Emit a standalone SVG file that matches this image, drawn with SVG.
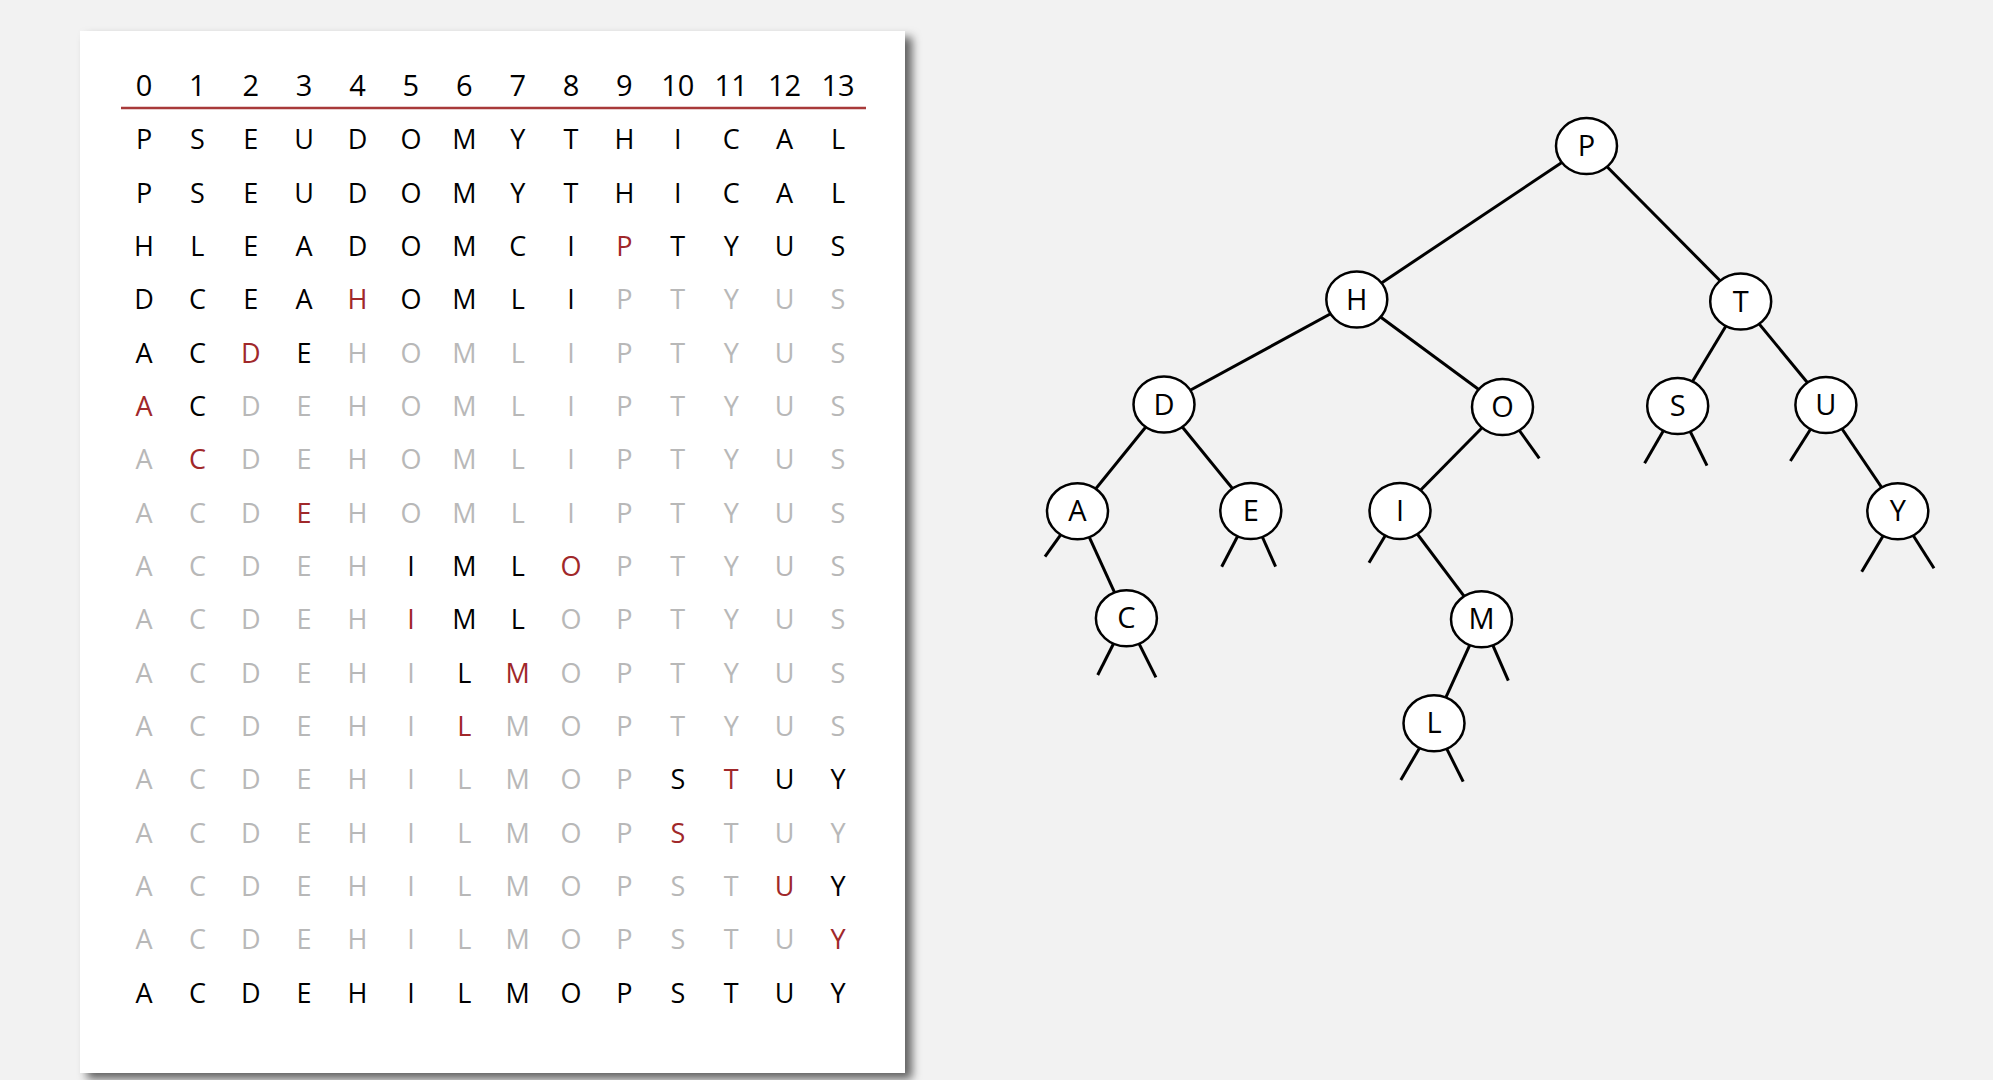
<svg xmlns="http://www.w3.org/2000/svg" width="1993" height="1080" viewBox="0 0 1993 1080">
<defs>
<filter id="sh" x="-5%" y="-5%" width="115%" height="115%">
<feDropShadow dx="7" dy="6" stdDeviation="5" flood-color="#000" flood-opacity="0.6"/>
</filter>
<style>
.t{font-family:"Open Sans","Liberation Sans",sans-serif;font-size:27px;text-anchor:middle}
.h{font-family:"Open Sans","Liberation Sans",sans-serif;font-size:29px;text-anchor:middle;fill:#000}
.k{fill:#000}.r{fill:#a0282a}.g{fill:#b8b8b8}
.e{stroke:#000;stroke-width:3;fill:none}
.n ellipse{fill:#fff;stroke:#000;stroke-width:2.5}
.n text{font-family:"Open Sans","Liberation Sans",sans-serif;font-size:29px;text-anchor:middle;fill:#000}
</style>
</defs>
<rect width="1993" height="1080" fill="#f2f2f2"/>
<rect x="80" y="31" width="825" height="1042" fill="#fff" filter="url(#sh)"/>
<g id="header">
<text class="h" x="144" y="96">0</text>
<text class="h" x="197.4" y="96">1</text>
<text class="h" x="250.8" y="96">2</text>
<text class="h" x="304.1" y="96">3</text>
<text class="h" x="357.5" y="96">4</text>
<text class="h" x="410.9" y="96">5</text>
<text class="h" x="464.3" y="96">6</text>
<text class="h" x="517.7" y="96">7</text>
<text class="h" x="571" y="96">8</text>
<text class="h" x="624.4" y="96">9</text>
<text class="h" x="677.8" y="96">10</text>
<text class="h" x="731.2" y="96">11</text>
<text class="h" x="784.6" y="96">12</text>
<text class="h" x="838" y="96">13</text>
</g>
<line x1="121" y1="108" x2="866" y2="108" stroke="#a83a3a" stroke-width="2.5"/>
<g id="rows">
<text class="t" x="144 197.4 250.8 304.1 357.5 410.9 464.3 517.7 571 624.4 677.8 731.2 784.6 838" y="149.3"><tspan class="k">PSEUDOMYTHICAL</tspan></text>
<text class="t" x="144 197.4 250.8 304.1 357.5 410.9 464.3 517.7 571 624.4 677.8 731.2 784.6 838" y="202.7"><tspan class="k">PSEUDOMYTHICAL</tspan></text>
<text class="t" x="144 197.4 250.8 304.1 357.5 410.9 464.3 517.7 571 624.4 677.8 731.2 784.6 838" y="256"><tspan class="k">HLEADOMCI</tspan><tspan class="r">P</tspan><tspan class="k">TYUS</tspan></text>
<text class="t" x="144 197.4 250.8 304.1 357.5 410.9 464.3 517.7 571 624.4 677.8 731.2 784.6 838" y="309.3"><tspan class="k">DCEA</tspan><tspan class="r">H</tspan><tspan class="k">OMLI</tspan><tspan class="g">PTYUS</tspan></text>
<text class="t" x="144 197.4 250.8 304.1 357.5 410.9 464.3 517.7 571 624.4 677.8 731.2 784.6 838" y="362.6"><tspan class="k">AC</tspan><tspan class="r">D</tspan><tspan class="k">E</tspan><tspan class="g">HOMLIPTYUS</tspan></text>
<text class="t" x="144 197.4 250.8 304.1 357.5 410.9 464.3 517.7 571 624.4 677.8 731.2 784.6 838" y="416"><tspan class="r">A</tspan><tspan class="k">C</tspan><tspan class="g">DEHOMLIPTYUS</tspan></text>
<text class="t" x="144 197.4 250.8 304.1 357.5 410.9 464.3 517.7 571 624.4 677.8 731.2 784.6 838" y="469.3"><tspan class="g">A</tspan><tspan class="r">C</tspan><tspan class="g">DEHOMLIPTYUS</tspan></text>
<text class="t" x="144 197.4 250.8 304.1 357.5 410.9 464.3 517.7 571 624.4 677.8 731.2 784.6 838" y="522.6"><tspan class="g">ACD</tspan><tspan class="r">E</tspan><tspan class="g">HOMLIPTYUS</tspan></text>
<text class="t" x="144 197.4 250.8 304.1 357.5 410.9 464.3 517.7 571 624.4 677.8 731.2 784.6 838" y="575.9"><tspan class="g">ACDEH</tspan><tspan class="k">IML</tspan><tspan class="r">O</tspan><tspan class="g">PTYUS</tspan></text>
<text class="t" x="144 197.4 250.8 304.1 357.5 410.9 464.3 517.7 571 624.4 677.8 731.2 784.6 838" y="629.3"><tspan class="g">ACDEH</tspan><tspan class="r">I</tspan><tspan class="k">ML</tspan><tspan class="g">OPTYUS</tspan></text>
<text class="t" x="144 197.4 250.8 304.1 357.5 410.9 464.3 517.7 571 624.4 677.8 731.2 784.6 838" y="682.6"><tspan class="g">ACDEHI</tspan><tspan class="k">L</tspan><tspan class="r">M</tspan><tspan class="g">OPTYUS</tspan></text>
<text class="t" x="144 197.4 250.8 304.1 357.5 410.9 464.3 517.7 571 624.4 677.8 731.2 784.6 838" y="735.9"><tspan class="g">ACDEHI</tspan><tspan class="r">L</tspan><tspan class="g">MOPTYUS</tspan></text>
<text class="t" x="144 197.4 250.8 304.1 357.5 410.9 464.3 517.7 571 624.4 677.8 731.2 784.6 838" y="789.3"><tspan class="g">ACDEHILMOP</tspan><tspan class="k">S</tspan><tspan class="r">T</tspan><tspan class="k">UY</tspan></text>
<text class="t" x="144 197.4 250.8 304.1 357.5 410.9 464.3 517.7 571 624.4 677.8 731.2 784.6 838" y="842.6"><tspan class="g">ACDEHILMOP</tspan><tspan class="r">S</tspan><tspan class="g">TUY</tspan></text>
<text class="t" x="144 197.4 250.8 304.1 357.5 410.9 464.3 517.7 571 624.4 677.8 731.2 784.6 838" y="895.9"><tspan class="g">ACDEHILMOPST</tspan><tspan class="r">U</tspan><tspan class="k">Y</tspan></text>
<text class="t" x="144 197.4 250.8 304.1 357.5 410.9 464.3 517.7 571 624.4 677.8 731.2 784.6 838" y="949.3"><tspan class="g">ACDEHILMOPSTU</tspan><tspan class="r">Y</tspan></text>
<text class="t" x="144 197.4 250.8 304.1 357.5 410.9 464.3 517.7 571 624.4 677.8 731.2 784.6 838" y="1002.6"><tspan class="k">ACDEHILMOPSTUY</tspan></text>
</g>
<g id="connectors" class="e">
<line x1="1586.5" y1="146" x2="1356.8" y2="299.5"/>
<line x1="1586.5" y1="146" x2="1740.7" y2="301.5"/>
<line x1="1356.8" y1="299.5" x2="1164" y2="404.5"/>
<line x1="1356.8" y1="299.5" x2="1502.5" y2="407"/>
<line x1="1740.7" y1="301.5" x2="1677.7" y2="406"/>
<line x1="1740.7" y1="301.5" x2="1825.9" y2="405"/>
<line x1="1164" y1="404.5" x2="1077.5" y2="511.3"/>
<line x1="1164" y1="404.5" x2="1250.8" y2="511"/>
<line x1="1502.5" y1="407" x2="1400" y2="511"/>
<line x1="1825.9" y1="405" x2="1897.8" y2="511.3"/>
<line x1="1077.5" y1="511.3" x2="1126.4" y2="618.3"/>
<line x1="1400" y1="511" x2="1481.5" y2="619.3"/>
<line x1="1481.5" y1="619.3" x2="1434" y2="723.3"/>
<line x1="1502.5" y1="407" x2="1539.3" y2="458.3"/>
<line x1="1677.7" y1="406" x2="1644.6" y2="463.3"/>
<line x1="1677.7" y1="406" x2="1707" y2="465.7"/>
<line x1="1825.9" y1="405" x2="1790.4" y2="461"/>
<line x1="1077.5" y1="511.3" x2="1045" y2="556.7"/>
<line x1="1250.8" y1="511" x2="1221.7" y2="566.7"/>
<line x1="1250.8" y1="511" x2="1275.6" y2="566.7"/>
<line x1="1400" y1="511" x2="1369" y2="562.7"/>
<line x1="1897.8" y1="511.3" x2="1861.7" y2="571.7"/>
<line x1="1897.8" y1="511.3" x2="1934" y2="568.3"/>
<line x1="1126.4" y1="618.3" x2="1097.7" y2="675"/>
<line x1="1126.4" y1="618.3" x2="1155.9" y2="677.3"/>
<line x1="1481.5" y1="619.3" x2="1508.3" y2="680.7"/>
<line x1="1434" y1="723.3" x2="1400.8" y2="780"/>
<line x1="1434" y1="723.3" x2="1463.2" y2="781.7"/>
</g>
<g id="node-P" class="n"><ellipse cx="1586.5" cy="146" rx="30.5" ry="28"/><text x="1586.5" y="156">P</text></g>
<g id="node-H" class="n"><ellipse cx="1356.8" cy="299.5" rx="30.5" ry="28"/><text x="1356.8" y="309.5">H</text></g>
<g id="node-T" class="n"><ellipse cx="1740.7" cy="301.5" rx="30.5" ry="28"/><text x="1740.7" y="311.5">T</text></g>
<g id="node-D" class="n"><ellipse cx="1164" cy="404.5" rx="30.5" ry="28"/><text x="1164" y="414.5">D</text></g>
<g id="node-O" class="n"><ellipse cx="1502.5" cy="407" rx="30.5" ry="28"/><text x="1502.5" y="417">O</text></g>
<g id="node-S" class="n"><ellipse cx="1677.7" cy="406" rx="30.5" ry="28"/><text x="1677.7" y="416">S</text></g>
<g id="node-U" class="n"><ellipse cx="1825.9" cy="405" rx="30.5" ry="28"/><text x="1825.9" y="415">U</text></g>
<g id="node-A" class="n"><ellipse cx="1077.5" cy="511.3" rx="30.5" ry="28"/><text x="1077.5" y="521.3">A</text></g>
<g id="node-E" class="n"><ellipse cx="1250.8" cy="511" rx="30.5" ry="28"/><text x="1250.8" y="521">E</text></g>
<g id="node-I" class="n"><ellipse cx="1400" cy="511" rx="30.5" ry="28"/><text x="1400" y="521">I</text></g>
<g id="node-Y" class="n"><ellipse cx="1897.8" cy="511.3" rx="30.5" ry="28"/><text x="1897.8" y="521.3">Y</text></g>
<g id="node-C" class="n"><ellipse cx="1126.4" cy="618.3" rx="30.5" ry="28"/><text x="1126.4" y="628.3">C</text></g>
<g id="node-M" class="n"><ellipse cx="1481.5" cy="619.3" rx="30.5" ry="28"/><text x="1481.5" y="629.3">M</text></g>
<g id="node-L" class="n"><ellipse cx="1434" cy="723.3" rx="30.5" ry="28"/><text x="1434" y="733.3">L</text></g>
</svg>
